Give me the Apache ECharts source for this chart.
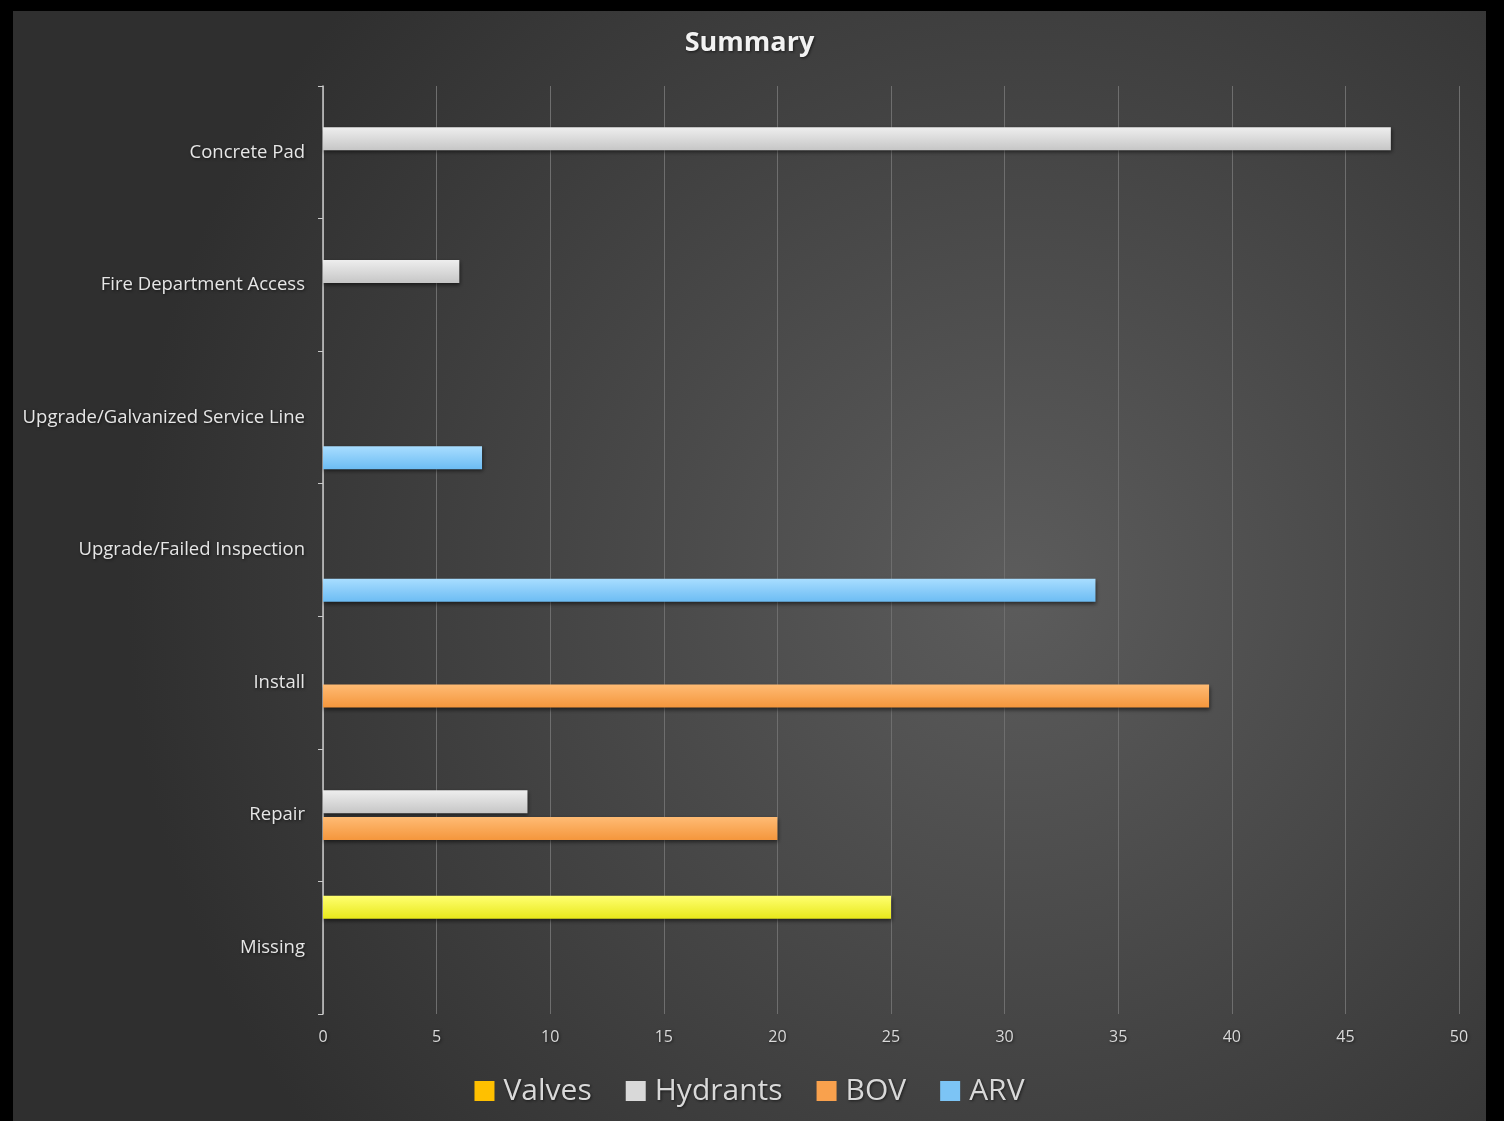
<!DOCTYPE html>
<html>
<head>
<meta charset="utf-8">
<script src="https://cdn.jsdelivr.net/npm/echarts@6/dist/echarts.min.js"></script>
<style>
  html, body { margin: 0; padding: 0; background: #000; width: 1504px; height: 1121px; overflow: hidden; }
  #chart { position: absolute; left: 13px; top: 11px; width: 1473px; height: 1110px; }
</style>
</head>
<body>
<div id="chart"></div>
<script>
const categories = ['Missing', 'Repair', 'Install', 'Upgrade/Failed Inspection', 'Upgrade/Galvanized Service Line', 'Fire Department Access', 'Concrete Pad'];
const seriesNames = ['Valves', 'Hydrants', 'BOV', 'ARV'];
const valves   = [25, null, null, null, null, null, null];
const hydrants = [null, 9, null, null, null, 6, 47];
const bov      = [null, 20, 39, null, null, null, null];
const arv      = [null, null, null, 34, 7, null, null];
const xTicks = { min: 0, max: 50, interval: 5 };

const barColors = [
  ['#ffff70', '#e8e81a'],
  ['#eeeeee', '#c6c6c6'],
  ['#ffbb74', '#f4963c'],
  ['#a8ddff', '#6cbcf3']
];
const legendColors = ['#ffc000', '#d9d9d9', '#f9a14d', '#7cc4f5'];
const seriesData = [valves, hydrants, bov, arv];

function grad(c) {
  return new echarts.graphic.LinearGradient(0, 0, 0, 1, [
    { offset: 0, color: c[0] }, { offset: 1, color: c[1] }
  ]);
}

const chart = echarts.init(document.getElementById('chart'));
const fontFamily = '"Open Sans", "Noto Sans", sans-serif';
const shadow = { textShadowColor: 'rgba(0,0,0,0.6)', textShadowBlur: 3, textShadowOffsetX: 1, textShadowOffsetY: 1 };

chart.setOption({
  backgroundColor: {
    type: 'radial', x: 0.68, y: 0.52, r: 0.8,
    colorStops: [{ offset: 0, color: '#5c5c5c' }, { offset: 1, color: '#2f2f2f' }]
  },
  animation: false,
  title: {
    text: 'Summary', left: 'center', top: 14,
    textStyle: Object.assign({ color: '#f2f2f2', fontSize: 27, fontWeight: 'bold', fontFamily: fontFamily }, shadow)
  },
  legend: {
    bottom: 10, left: 'center', itemWidth: 20, itemHeight: 20, itemGap: 34, icon: 'rect',
    textStyle: Object.assign({ color: '#d9d9d9', fontSize: 30, fontFamily: fontFamily, padding: [0, 0, 0, 4] }, shadow),
    data: seriesNames.map((n, i) => ({ name: n, itemStyle: { color: legendColors[i] } }))
  },
  grid: { left: 310, right: 27, top: 75, bottom: 107, containLabel: false },
  xAxis: {
    type: 'value', min: xTicks.min, max: xTicks.max, interval: xTicks.interval,
    axisLine: { show: false }, axisTick: { show: false },
    axisLabel: Object.assign({ color: '#d9d9d9', fontSize: 16, fontFamily: fontFamily, margin: 15 }, shadow),
    splitLine: { show: true, lineStyle: { color: '#6e6e6e', width: 1 } }
  },
  yAxis: {
    type: 'category', data: categories,
    axisLine: { show: true, lineStyle: { color: '#c8c8c8', width: 1.5 } },
    axisTick: { show: true, length: 5, lineStyle: { color: '#c8c8c8' } },
    axisLabel: Object.assign({ color: '#e6e6e6', fontSize: 18.5, fontFamily: fontFamily, margin: 18 }, shadow),
    splitLine: { show: false }
  },
  series: seriesNames.map((n, i) => ({
    name: n, type: 'bar', data: seriesData[i],
    barWidth: 23, barGap: '17%',
    itemStyle: {
      color: grad(barColors[i]),
      shadowColor: 'rgba(0,0,0,0.55)', shadowBlur: 4, shadowOffsetX: 1, shadowOffsetY: 2
    }
  }))
});
</script>
</body>
</html>
